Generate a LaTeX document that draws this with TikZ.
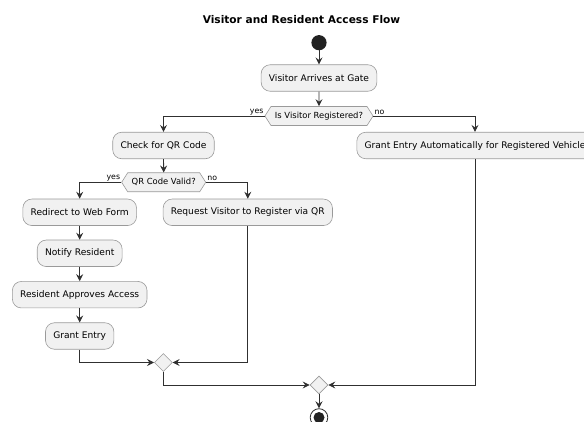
\documentclass[tikz,border=0pt]{standalone}
\usepackage{fontspec}
\setmainfont{DejaVu Sans}
\usetikzlibrary{arrows.meta,shapes.geometric,shapes.symbols}

\definecolor{actfill}{HTML}{F1F1F1}
\definecolor{actline}{HTML}{9A9A9A}
\definecolor{flowline}{HTML}{303030}
\definecolor{dotfill}{HTML}{222222}

\tikzset{
  act/.style={draw=actline, fill=actfill, line width=0.6pt, rounded corners=9pt,
    minimum height=26.5pt, inner xsep=7.8pt, inner ysep=0pt, font=\fontsize{9.1}{11}\selectfont},
  dec/.style={draw=actline, fill=actfill, line width=0.6pt, shape=signal,
    signal to=west and east, signal pointer angle=115, minimum height=19pt,
    inner xsep=4pt, inner ysep=0pt, font=\fontsize{8.4}{10}\selectfont},
  merge/.style={draw=actline, fill=actfill, line width=0.6pt, diamond,
    minimum width=18pt, minimum height=18pt, inner sep=0pt},
  flow/.style={draw=flowline, line width=0.8pt, -{Stealth[length=7pt,width=7pt,inset=2.5pt]}},
  guard/.style={font=\fontsize{7.8}{9}\selectfont, inner sep=1pt},
}

\begin{document}
\begin{tikzpicture}[x=1pt, y=-1pt]
		%%%%% START %%%%%
		\clip (0,0) rectangle (584,422);
		
		\node[font=\bfseries\fontsize{10.6}{13}\selectfont] (title) at (301.5,20) {Visitor and Resident Access Flow};
		
		\node[circle, fill=dotfill, minimum size=15.2pt, inner sep=0pt] (start) at (319,42.7) {};
		\node[act] (arrive) at (319,78) {Visitor Arrives at Gate};
		\node[dec] (registered) at (319,116) {Is Visitor Registered?};
		
		\node[act] (checkqr) at (163.5,145.5) {Check for QR Code};
		\node[act] (auto) at (475,145.5) {Grant Entry Automatically for Registered Vehicle};
		\node[dec] (qrvalid) at (163.7,182.3) {QR Code Valid?};
		
		\node[act] (webform) at (79.7,212.3) {Redirect to Web Form};
		\node[act] (askreg) at (247.8,212.3) {Request Visitor to Register via QR};
		\node[act] (notify) at (79.7,253.3) {Notify Resident};
		\node[act] (approve) at (79.7,294.7) {Resident Approves Access};
		\node[act] (grant) at (79.7,336) {Grant Entry};
		
		\node[merge] (mergeqr) at (163.3,362.5) {};
		\node[merge] (mergeall) at (319,385) {};
		
		\node[circle, draw=flowline, fill=white, line width=0.8pt, minimum size=17.6pt, inner sep=0pt] (stop) at (319,417.5) {};
		\fill[dotfill] (stop) circle (5.5);
		
		\draw[flow] (start) -- (arrive);
		\draw[flow] (arrive) -- (registered);
		\draw[flow] (registered.west) -| (checkqr.north);
		\node[guard, anchor=south east] at (registered.west) {yes};
		\draw[flow] (registered.east) -| (auto.north);
		\node[guard, anchor=south west] at (registered.east) {no};
		
		\draw[flow] (checkqr) -- (qrvalid);
		\draw[flow] (qrvalid.west) -| (webform.north);
		\node[guard, anchor=south east] at (qrvalid.west) {yes};
		\draw[flow] (qrvalid.east) -| (askreg.north);
		\node[guard, anchor=south west] at (qrvalid.east) {no};
		
		\draw[flow] (webform) -- (notify);
		\draw[flow] (notify) -- (approve);
		\draw[flow] (approve) -- (grant);
		
		\draw[flow] (grant.south) |- (mergeqr.west);
		\draw[flow] (askreg.south) |- (mergeqr.east);
		\draw[flow] (mergeqr.south) |- (mergeall.west);
		\draw[flow] (auto.south) |- (mergeall.east);
		\draw[flow] (mergeall) -- (stop);
		
		%%%%% END %%%%%
\end{tikzpicture}
\end{document}
